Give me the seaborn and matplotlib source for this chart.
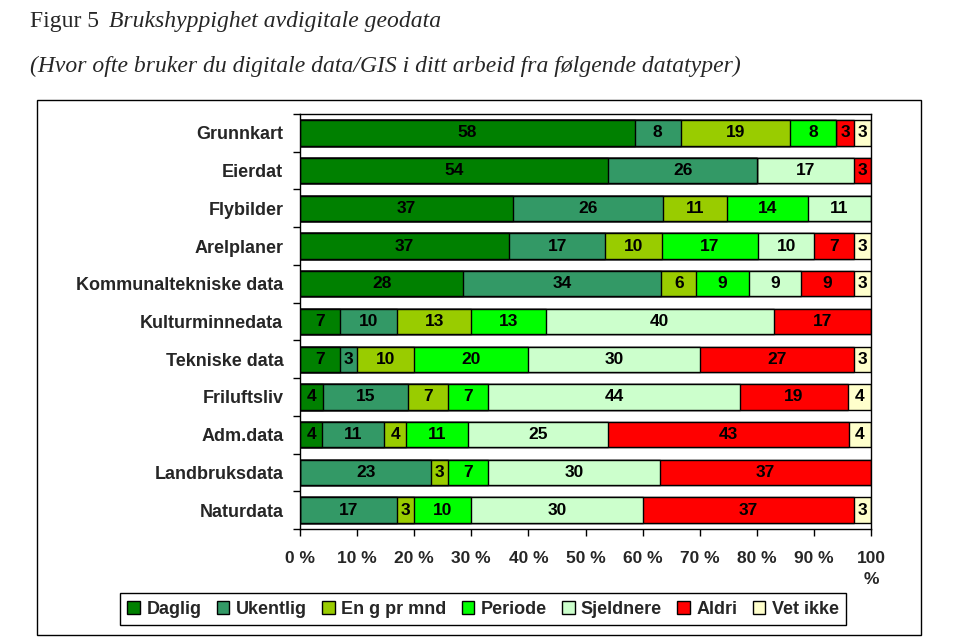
import numpy as np
import pandas as pd
import seaborn as sns
import matplotlib.pyplot as plt
from matplotlib.patches import Rectangle, Patch

# categories (top to bottom) and answer shares per frequency class
categories = ["Grunnkart", "Eierdat", "Flybilder", "Arelplaner",
              "Kommunaltekniske data", "Kulturminnedata", "Tekniske data",
              "Friluftsliv", "Adm.data", "Landbruksdata", "Naturdata"]
daglig    = [58, 54, 37, 37, 28,  7,  7,  4,  4,  0,  0]
ukentlig  = [ 8, 26, 26, 17, 34, 10,  3, 15, 11, 23, 17]
en_g_mnd  = [19,  0, 11, 10,  6, 13, 10,  7,  4,  3,  3]
periode   = [ 8,  0, 14, 17,  9, 13, 20,  7, 11,  7, 10]
sjeldnere = [ 0, 17, 11, 10,  9, 40, 30, 44, 25, 30, 30]
aldri     = [ 3,  3,  0,  7,  9, 17, 27, 19, 43, 37, 37]
vet_ikke  = [ 3,  0,  0,  3,  3,  0,  3,  4,  4,  0,  3]

series_names = ["Daglig", "Ukentlig", "En g pr mnd", "Periode",
                "Sjeldnere", "Aldri", "Vet ikke"]
colors = ["#008000", "#339966", "#99CC00", "#00FF00",
          "#CCFFCC", "#FF0000", "#FFFFCC"]
xticklabels = ["0 %", "10 %", "20 %", "30 %", "40 %", "50 %",
               "60 %", "70 %", "80 %", "90 %", "100\n%"]

sns.set_theme(style="white")
plt.rcParams["font.family"] = ["Liberation Sans", "DejaVu Sans"]

raw = pd.DataFrame(dict(zip(series_names,
                            [daglig, ukentlig, en_g_mnd, periode,
                             sjeldnere, aldri, vet_ikke])), index=categories)
pct = raw.div(raw.sum(axis=1), axis=0) * 100
cum = pct.cumsum(axis=1)

fig = plt.figure(figsize=(9.54, 6.4), dpi=100)
ax = fig.add_axes([300 / 954, 1 - 529 / 640, 571 / 954, 415 / 640])

# stacked bars: draw cumulative totals, longest first
for name, col in reversed(list(zip(series_names, colors))):
    d = pd.DataFrame({"cat": categories, "val": cum[name].values})
    sns.barplot(data=d, y="cat", x="val", orient="h", color=col,
                width=0.67, edgecolor="black", linewidth=1.0,
                saturation=1, ax=ax, order=categories)

# value labels
for name in series_names:
    for i, cat in enumerate(categories):
        v = raw.loc[cat, name]
        if v == 0:
            continue
        mid = cum.loc[cat, name] - pct.loc[cat, name] / 2
        ax.text(mid, i, str(v), ha="center", va="center",
                fontsize=12.5, fontweight="bold", color="black")

ax.set_xlim(0, 100)
ax.set_ylim(len(categories) - 0.5, -0.5)
ax.set_xticks(np.arange(0, 101, 10))
ax.set_xticklabels(xticklabels, fontsize=12.5, fontweight="bold",
                   linespacing=1.5)
ax.set_yticks(range(len(categories)))
ax.set_yticklabels(categories, fontsize=13, fontweight="bold")
ax.set_yticks(np.arange(-0.5, len(categories), 1), minor=True)
ax.tick_params(axis="y", which="major", length=0, pad=12)
ax.tick_params(axis="y", which="minor", left=True, length=5,
               width=1, color="black", direction="out")
ax.tick_params(axis="x", which="major", bottom=True, length=5, width=1,
               color="black", direction="out", pad=11)
ax.set_xlabel("")
ax.set_ylabel("")
for sp in ax.spines.values():
    sp.set_visible(True)
    sp.set_color("black")
    sp.set_linewidth(1.0)

# legend
handles = [Patch(facecolor=c, edgecolor="black", linewidth=1.0, label=n)
           for n, c in zip(series_names, colors)]
leg = fig.legend(handles=handles, loc="center", ncol=7,
                 bbox_to_anchor=(483 / 954, 1 - 609 / 640),
                 prop={"size": 13, "weight": "bold"},
                 handlelength=0.7, handleheight=0.7, handletextpad=0.35,
                 columnspacing=0.85, borderpad=0.4, fancybox=False,
                 framealpha=1)
leg.get_frame().set_edgecolor("black")
leg.get_frame().set_linewidth(1.0)

# outer chart frame
fig.add_artist(Rectangle((37 / 954, 1 - 635 / 640), 884 / 954, 535 / 640,
                         transform=fig.transFigure, fill=False,
                         edgecolor="black", linewidth=1.0))

# title lines
fig.text(30 / 954, 1 - 21 / 640, "Figur 5", fontsize=17,
         family="Liberation Serif", va="center", ha="left")
fig.text(109 / 954, 1 - 21 / 640, "Brukshyppighet avdigitale geodata",
         fontsize=17, family="Liberation Serif", style="italic",
         va="center", ha="left")
fig.text(30 / 954, 1 - 66 / 640,
         "(Hvor ofte bruker du digitale data/GIS i ditt arbeid fra følgende datatyper)",
         fontsize=17, family="Liberation Serif", style="italic",
         va="center", ha="left")

fig.savefig("out.png", dpi=100)
